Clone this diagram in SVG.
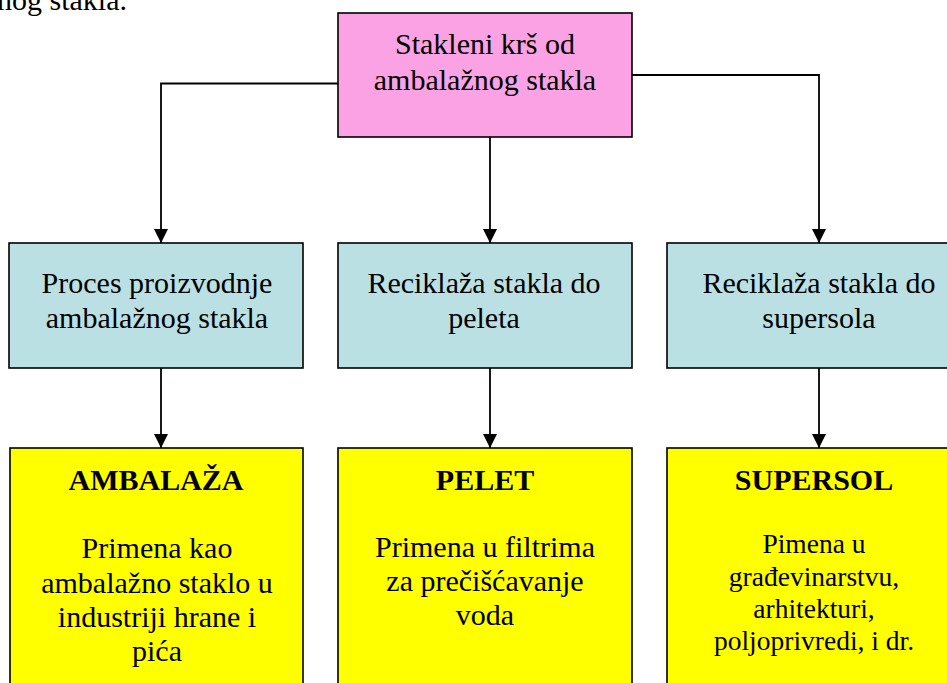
<svg xmlns="http://www.w3.org/2000/svg" width="947" height="683" viewBox="0 0 947 683">
<defs>
<style>
text{font-family:"Liberation Serif","Times New Roman",serif;fill:#000;text-anchor:middle}
.t{font-size:30px}
.b{font-size:30px;font-weight:bold}
.s{font-size:27.5px}
.box{stroke:#000;stroke-width:1.6}
.pink{fill:#FAA2E4}
.blue{fill:#BAE0E3}
.yel{fill:#FFFF00}
.con{fill:none;stroke:#000;stroke-width:1.8}
</style>
<marker id="arr" viewBox="0 0 14 14" refX="14" refY="7" markerWidth="14" markerHeight="14" markerUnits="userSpaceOnUse" orient="auto">
<path d="M0,0 L14,7 L0,14 z" fill="#000"/>
</marker>
</defs>
<rect width="947" height="683" fill="#fff"/>
<text class="t" x="127" y="10" style="text-anchor:end">nog stakla.</text>
<g id="connectors">
<path class="con" d="M338,83.5 H161 V243" marker-end="url(#arr)"/>
<path class="con" d="M490,137 V243" marker-end="url(#arr)"/>
<path class="con" d="M632,75 H819 V243" marker-end="url(#arr)"/>
<path class="con" d="M161,368 V448" marker-end="url(#arr)"/>
<path class="con" d="M490,368 V448" marker-end="url(#arr)"/>
<path class="con" d="M819,368 V448" marker-end="url(#arr)"/>
</g>
<g id="top">
<rect class="box pink" x="338" y="13" width="294" height="124"/>
<text class="t" x="485" y="54">Stakleni krš od</text>
<text class="t" x="485" y="90">ambalažnog stakla</text>
</g>
<g id="proces">
<rect class="box blue" x="9" y="243" width="294" height="125"/>
<text class="t" x="157" y="293">Proces proizvodnje</text>
<text class="t" x="157" y="328">ambalažnog stakla</text>
</g>
<g id="peleti">
<rect class="box blue" x="338" y="243" width="294" height="125"/>
<text class="t" x="484" y="293">Reciklaža stakla do</text>
<text class="t" x="484" y="328">peleta</text>
</g>
<g id="supersoli">
<rect class="box blue" x="667" y="243" width="300" height="125"/>
<text class="t" x="819" y="293">Reciklaža stakla do</text>
<text class="t" x="819" y="328">supersola</text>
</g>
<g id="ambalaza">
<rect class="box yel" x="10" y="448" width="293" height="260"/>
<text class="b" x="156" y="490">AMBALAŽA</text>
<text class="t" x="157" y="558">Primena kao</text>
<text class="t" x="157" y="593">ambalažno staklo u</text>
<text class="t" x="157" y="627">industriji hrane i</text>
<text class="t" x="157" y="661">pića</text>
</g>
<g id="pelet">
<rect class="box yel" x="338" y="448" width="294" height="260"/>
<text class="b" x="485" y="490">PELET</text>
<text class="t" x="485" y="557">Primena u filtrima</text>
<text class="t" x="485" y="591">za prečišćavanje</text>
<text class="t" x="485" y="625">voda</text>
</g>
<g id="supersol">
<rect class="box yel" x="667" y="448" width="300" height="260"/>
<text class="b" x="814" y="490">SUPERSOL</text>
<text class="s" x="814" y="553">Pimena u</text>
<text class="s" x="814" y="586">građevinarstvu,</text>
<text class="s" x="814" y="618">arhitekturi,</text>
<text class="s" x="814" y="650">poljoprivredi, i dr.</text>
</g>
</svg>
